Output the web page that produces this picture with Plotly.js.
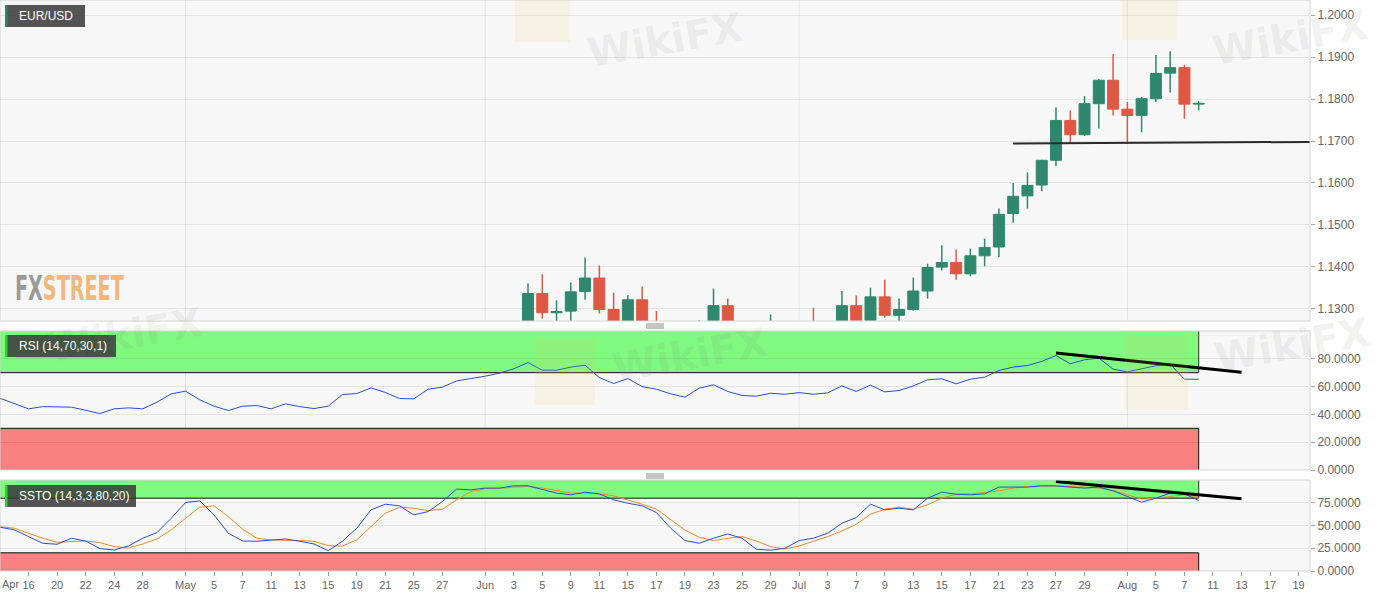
<!DOCTYPE html>
<html>
<head>
<meta charset="utf-8">
<script src="https://cdn.plot.ly/plotly-3.0.1.min.js"></script>
<style>
html,body{margin:0;padding:0;background:#ffffff;}
#chart{width:1387px;height:598px;}
</style>
</head>
<body>
<div id="chart"></div>
<script>
// ---------------- DATA ----------------
const candleStart = '2020-06-04';
const openP  = [1.1233,1.1336,1.1290,1.1294,1.1341,1.1373,1.1298,1.1255,1.1321,1.1263,1.1243,1.1204,1.1178,1.1258,1.1307,1.1250,1.1220,1.1219,1.1245,
                1.1234,1.1250,1.1238,1.1245,1.1307,1.1272,1.1328,1.1284,1.1298,1.1342,1.1399,1.1410,1.1383,1.1426,1.1447,1.1527,1.1569,1.1595,1.1654,1.1749,1.1715,1.1789,1.1845,
                1.1776,1.1761,1.1801,1.1862,1.1875,1.1788];
const highP  = [1.1360,1.1382,1.1320,1.1362,1.1422,1.1403,1.1338,1.1332,1.1353,1.1294,1.1255,1.1256,1.1272,1.1348,1.1324,1.1255,1.1248,1.1286,1.1254,
                1.1266,1.1302,1.1264,1.1342,1.1331,1.1350,1.1369,1.1324,1.1374,1.1407,1.1451,1.1441,1.1443,1.1467,1.1539,1.1600,1.1625,1.1655,1.1780,1.1773,1.1807,1.1848,1.1907,
                1.1793,1.1805,1.1905,1.1914,1.1882,1.1795];
const lowP   = [1.1212,1.1276,1.1240,1.1255,1.1321,1.1288,1.1232,1.1168,1.1235,1.1220,1.1187,1.1168,1.1170,1.1240,1.1233,1.1190,1.1197,1.1190,1.1200,
                1.1180,1.1228,1.1220,1.1234,1.1259,1.1256,1.1279,1.1258,1.1295,1.1324,1.1391,1.1369,1.1377,1.1401,1.1423,1.1505,1.1539,1.1580,1.1640,1.1695,1.1712,1.1730,1.1761,
                1.1694,1.1721,1.1793,1.1816,1.1753,1.1773];
const closeP = [1.1336,1.1290,1.1293,1.1340,1.1373,1.1298,1.1255,1.1321,1.1263,1.1243,1.1204,1.1178,1.1258,1.1307,1.1250,1.1220,1.1219,1.1245,1.1234,
                1.1250,1.1238,1.1245,1.1307,1.1272,1.1328,1.1284,1.1298,1.1342,1.1398,1.1410,1.1383,1.1426,1.1446,1.1525,1.1568,1.1594,1.1654,1.1749,1.1715,1.1789,1.1845,1.1776,
                1.1761,1.1801,1.1861,1.1875,1.1788,1.1790];

const indicatorStart = '2020-04-14';
const rsiValues = [51.6,47.8,44.0,45.6,45.4,45.2,43.0,40.6,44.0,44.7,44.0,48.8,54.8,56.7,50.5,45.9,42.8,45.9,46.4,44.0,
                   47.6,45.6,44.2,45.9,54.3,55.0,59.1,55.8,51.4,51.2,58.1,59.6,64.1,65.6,67.5,69.7,72.8,77.3,71.8,71.8,
                   74.0,75.4,66.5,62.2,65.8,60.0,58.1,54.8,52.4,58.9,61.3,56.5,53.6,53.1,55.2,54.5,55.7,54.5,55.5,60.5,
                   56.5,61.0,56.2,57.2,60.5,64.9,65.6,62.0,65.3,66.8,71.6,74.0,75.2,78.1,82.4,76.4,79.3,80.5,72.6,70.6,
                   72.6,75.0,76.2,65.3,65.3];
const sstoK = [48.1,45.2,37.8,30.5,29.4,36.0,33.0,24.6,23.1,27.5,36.0,42.2,58.0,75.2,77.1,61.7,41.5,33.0,32.7,34.1,
               35.2,32.7,29.7,22.4,32.7,47.0,67.2,73.4,71.6,61.7,65.3,76.3,90.0,89.2,91.1,91.1,93.6,93.6,89.2,85.6,
               83.7,86.6,84.8,78.2,74.5,71.6,64.2,47.0,33.4,30.5,36.0,40.7,36.0,23.9,22.8,25.0,33.4,36.0,41.5,52.5,
               58.7,73.4,67.2,69.0,67.2,80.0,86.6,84.4,83.7,84.8,92.2,92.2,92.2,93.6,93.6,92.2,91.1,92.2,88.1,81.9,
               75.6,80.0,85.6,84.8,77.5];
const sstoD = [48.8,47.0,41.5,36.0,31.6,32.7,33.0,31.2,26.8,25.3,29.7,35.2,45.2,58.0,70.1,71.6,59.8,45.9,36.0,34.1,
               34.1,33.4,32.7,27.9,27.5,34.1,48.8,63.5,70.1,69.0,66.4,67.9,78.2,87.4,90.4,90.7,92.2,92.9,91.1,88.1,
               85.6,85.6,84.8,82.6,78.2,73.4,67.9,56.2,45.0,37.0,33.4,36.0,37.8,33.0,26.8,24.2,27.5,32.7,37.8,44.0,
               51.4,62.4,67.9,70.1,67.9,72.7,80.0,84.4,84.8,86.3,88.1,91.1,92.9,93.6,93.6,92.9,92.2,91.1,88.5,83.7,
               79.0,80.0,81.9,83.7,81.1];

const tickDates  = ['2020-04-16','2020-04-20','2020-04-22','2020-04-24','2020-04-28','2020-05-01','2020-05-05','2020-05-07',
                    '2020-05-11','2020-05-13','2020-05-15','2020-05-19','2020-05-21','2020-05-25','2020-05-27','2020-06-01',
                    '2020-06-03','2020-06-05','2020-06-09','2020-06-11','2020-06-15','2020-06-17','2020-06-19','2020-06-23',
                    '2020-06-25','2020-06-29','2020-07-01','2020-07-03','2020-07-07','2020-07-09','2020-07-13','2020-07-15',
                    '2020-07-17','2020-07-21','2020-07-23','2020-07-27','2020-07-29','2020-08-03','2020-08-05','2020-08-07',
                    '2020-08-11','2020-08-13','2020-08-17','2020-08-19'];
const tickLabels = ['Apr 16','20','22','24','28','May','5','7','11','13','15','19','21','25','27','Jun',
                    '3','5','9','11','15','17','19','23','25','29','Jul','3','7','9','13','15',
                    '17','21','23','27','29','Aug','5','7','11','13','17','19'];
const monthStarts = ['2020-05-01','2020-06-01','2020-07-01','2020-08-03'];
const priceTicks = [1.13,1.14,1.15,1.16,1.17,1.18,1.19,1.20];
const rsiTicks = [0,20,40,60,80];
const sstoTicks = [0,25,50,75];
const rsiZones = {upper:70, lower:30};
const sstoZones = {upper:80, lower:20};

const supportX = ['2020-07-22','2020-08-21'];
const supportY = [1.1694, 1.1698];
const rsiTrendX = ['2020-07-27','2020-08-13'];
const rsiTrendY = [84.1, 70.4];
const sstoTrendX = ['2020-07-27','2020-08-13'];
const sstoTrendY = [98.3, 79.3];

// ---------------- HELPERS ----------------
// each trading day is placed at its midday so bodies never touch the weekend break
const MID = ' 12:00';
const atMid = d => d + MID;
function tradingDays(start, n){
  const out=[]; const d=new Date(start+'T00:00:00Z');
  while(out.length<n){ const w=d.getUTCDay(); if(w!==0&&w!==6) out.push(d.toISOString().slice(0,10)+MID); d.setUTCDate(d.getUTCDate()+1); }
  return out;
}
const candleDates = tradingDays(candleStart, openP.length);
const indDates = tradingDays(indicatorStart, rsiValues.length);
const lastDate = indDates[indDates.length-1];
const DAY = 86400000;

const W = 1310, H = 571;          // plot area in px
const xp = px => px / W;
const yp = py => (H - py) / H;

const GREEN = '#2f886d', RED = '#de5844';
const ZGREEN = '#80f980', ZRED = '#f98080';
const tickFont = {family:'Liberation Sans, Arial, sans-serif', size:12, color:'#666'};
const xTickFont = {family:'Liberation Sans, Arial, sans-serif', size:11, color:'#666'};

// candle pieces derived from OHLC arrays
const isUp = closeP.map((c,i)=> c >= openP[i]);
const bodyBase = openP.map((o,i)=> Math.min(o, closeP[i]));
const bodyLen = openP.map((o,i)=> Math.abs(closeP[i]-o));
function wicks(up){
  const xs=[], ys=[];
  candleDates.forEach((d,i)=>{ if(isUp[i]===up){ xs.push(d,d,null); ys.push(lowP[i],highP[i],null); } });
  return {xs, ys};
}
const wUp = wicks(true), wDn = wicks(false);

// ---------------- TRACES ----------------
const traces = [
  {type:'bar', x:candleDates, y:bodyLen, base:bodyBase, width:0.77*DAY, xaxis:'x', yaxis:'y',
   marker:{color:isUp.map(u=>u?GREEN:RED), line:{color:isUp.map(u=>u?GREEN:RED), width:1}},
   showlegend:false, hoverinfo:'skip'},
  {type:'scatter', mode:'lines', x:wUp.xs, y:wUp.ys, xaxis:'x', yaxis:'y', connectgaps:false,
   line:{color:GREEN, width:1.5}, showlegend:false, hoverinfo:'skip'},
  {type:'scatter', mode:'lines', x:wDn.xs, y:wDn.ys, xaxis:'x', yaxis:'y', connectgaps:false,
   line:{color:RED, width:1.5}, showlegend:false, hoverinfo:'skip'},
  {type:'scatter', mode:'lines', x:supportX.map(atMid), y:supportY, xaxis:'x', yaxis:'y',
   line:{color:'#2a2a2a', width:2}, showlegend:false, hoverinfo:'skip'},
  {type:'scatter', mode:'lines', x:indDates, y:rsiValues, xaxis:'x', yaxis:'y2',
   line:{color:'#2a4fd6', width:1}, showlegend:false, hoverinfo:'skip'},
  {type:'scatter', mode:'lines', x:rsiTrendX.map(atMid), y:rsiTrendY, xaxis:'x', yaxis:'y2',
   line:{color:'#000', width:3}, showlegend:false, hoverinfo:'skip'},
  {type:'scatter', mode:'lines', x:indDates, y:sstoD, xaxis:'x', yaxis:'y3',
   line:{color:'#f08a24', width:1}, showlegend:false, hoverinfo:'skip'},
  {type:'scatter', mode:'lines', x:indDates, y:sstoK, xaxis:'x', yaxis:'y3',
   line:{color:'#2a4fd6', width:1}, showlegend:false, hoverinfo:'skip'},
  {type:'scatter', mode:'lines', x:sstoTrendX.map(atMid), y:sstoTrendY, xaxis:'x', yaxis:'y3',
   line:{color:'#000', width:3}, showlegend:false, hoverinfo:'skip'}
];

// ---------------- SHAPES ----------------
const shapes = [];
const zoneStart = atMid(indicatorStart);
[['y2',rsiZones],['y3',sstoZones]].forEach(([ax,z])=>{
  shapes.push({type:'rect', xref:'x', yref:ax, x0:zoneStart, x1:lastDate, y0:z.upper, y1:100, fillcolor:ZGREEN, line:{width:0}, layer:'below'});
  shapes.push({type:'rect', xref:'x', yref:ax, x0:zoneStart, x1:lastDate, y0:0, y1:z.lower, fillcolor:ZRED, line:{width:0}, layer:'below'});
});
['y','y2','y3'].forEach(ax=>{
  monthStarts.forEach(d=>{
    shapes.push({type:'line', xref:'x', yref:ax+' domain', x0:atMid(d), x1:atMid(d), y0:0, y1:1, line:{color:'rgba(0,0,0,0.08)', width:1}, layer:'below'});
  });
});
[['y2',rsiZones],['y3',sstoZones]].forEach(([ax,z])=>{
  shapes.push({type:'line', xref:'x', yref:ax, x0:zoneStart, x1:lastDate, y0:z.upper, y1:z.upper, line:{color:'#111', width:1}, layer:'below'});
  shapes.push({type:'line', xref:'x', yref:ax, x0:zoneStart, x1:lastDate, y0:z.lower, y1:z.lower, line:{color:'#111', width:1}, layer:'below'});
  shapes.push({type:'line', xref:'x', yref:ax, x0:lastDate, x1:lastDate, y0:z.upper, y1:100, line:{color:'#333', width:1}, layer:'below'});
  shapes.push({type:'line', xref:'x', yref:ax, x0:lastDate, x1:lastDate, y0:0, y1:z.lower, line:{color:'#111', width:1}, layer:'below'});
});
['y','y2','y3'].forEach(ax=>{
  shapes.push({type:'rect', xref:'paper', yref:ax+' domain', x0:0, x1:1, y0:0, y1:1, line:{color:'#d4d4d4', width:1}, fillcolor:'rgba(0,0,0,0)', layer:'above'});
});
function labelBox(x0,x1,y0,y1,strip){
  shapes.push({type:'rect', xref:'paper', yref:'paper', x0:xp(x0), x1:xp(x1), y0:yp(y1), y1:yp(y0), fillcolor:'rgba(55,55,55,0.85)', line:{width:0}, layer:'above'});
  shapes.push({type:'rect', xref:'paper', yref:'paper', x0:xp(x0), x1:xp(x0+2.5), y0:yp(y1), y1:yp(y0), fillcolor:strip, line:{width:0}, layer:'above'});
}
labelBox(5,85,5,27,'#2e876c');
labelBox(5,116,335,357,'#2bd62b');
labelBox(5,136,485,507,'#2bd62b');
[326,476].forEach(cy=>{
  [-2,0,2].forEach(o=>{
    shapes.push({type:'line', xref:'paper', yref:'paper', x0:xp(646), x1:xp(664), y0:yp(cy+o), y1:yp(cy+o), line:{color:'#8a8a8a', width:1}, layer:'above'});
  });
});
[[515,-10,570,42],[1122,-10,1178,40],[1125,335,1188,410],[535,338,595,405]].forEach(b=>{
  shapes.push({type:'rect', xref:'paper', yref:'paper', x0:xp(b[0]), x1:xp(b[2]), y0:yp(b[3]), y1:yp(b[1]), fillcolor:'rgba(235,200,90,0.13)', line:{width:0}, layer:'above'});
});

// ---------------- ANNOTATIONS ----------------
const annotations = [
  {xref:'paper', yref:'paper', x:xp(17), y:yp(16), xanchor:'left', yanchor:'middle', showarrow:false,
   text:'EUR/USD', font:{family:'Liberation Sans, Arial, sans-serif', size:12, color:'#ffffff'}},
  {xref:'paper', yref:'paper', x:xp(17), y:yp(346), xanchor:'left', yanchor:'middle', showarrow:false,
   text:'RSI (14,70,30,1)', font:{family:'Liberation Sans, Arial, sans-serif', size:12, color:'#ffffff'}},
  {xref:'paper', yref:'paper', x:xp(17), y:yp(496), xanchor:'left', yanchor:'middle', showarrow:false,
   text:'SSTO (14,3,3,80,20)', font:{family:'Liberation Sans, Arial, sans-serif', size:12, color:'#ffffff'}},
  {xref:'paper', yref:'paper', x:xp(13), y:yp(288), xanchor:'left', yanchor:'middle', showarrow:false,
   text:'<b><span style="color:#9a9a9a">FX</span><span style="color:#f2b878">STREET</span></b>',
   font:{family:'DejaVu Sans, sans-serif', size:33, color:'#9a9a9a'}}
];
// month prefix of a tick label written beside its tick (e.g. "Apr" of "Apr 16")
const tickText = tickLabels.map(l => l.indexOf(' ')>0 ? l.split(' ')[1] : l);
tickLabels.forEach((l,i)=>{
  if(l.indexOf(' ')>0){
    annotations.push({xref:'paper', yref:'paper', x:0, y:yp(584), xanchor:'left', yanchor:'middle',
      showarrow:false, text:l.split(' ')[0], font:xTickFont});
  }
});
[[665,40],[1290,38],[125,335],[690,355],[1292,345]].forEach(p=>{
  annotations.push({xref:'paper', yref:'paper', x:xp(p[0]), y:yp(p[1]), xanchor:'center', yanchor:'middle', showarrow:false,
    text:'<b>WikiFX</b>', textangle:-10, font:{family:'DejaVu Sans, sans-serif', size:40, color:'rgba(120,120,120,0.11)'}});
});

// ---------------- LAYOUT ----------------
const yCommon = {side:'right', ticks:'outside', ticklen:4, tickcolor:'#aaa', tickfont:tickFont,
                 gridcolor:'rgba(0,0,0,0.07)', gridwidth:1, zeroline:false, showline:false, tickformat:'.4f', fixedrange:true};
const layout = {
  width:1387, height:598,
  margin:{l:0, r:77, t:0, b:27, pad:0},
  paper_bgcolor:'#ffffff', plot_bgcolor:'#f7f7f7',
  showlegend:false, barmode:'overlay',
  xaxis:{type:'date', anchor:'y3', domain:[0,1],
         range:[atMid(indicatorStart), '2020-08-20 07:12'],
         rangebreaks:[{bounds:['sat','mon']}],
         rangeslider:{visible:false},
         tickmode:'array', tickvals:tickDates.map(atMid), ticktext:tickText, tickangle:0,
         ticks:'outside', ticklen:4, tickcolor:'#999', tickfont:xTickFont,
         showgrid:false, zeroline:false, showline:false, fixedrange:true},
  yaxis:Object.assign({}, yCommon, {domain:[1-321/571, 1], range:[1.12704, 1.20365], tickmode:'array', tickvals:priceTicks, anchor:'x'}),
  yaxis2:Object.assign({}, yCommon, {domain:[(571-470)/571, (571-331)/571], range:[0,100], tickmode:'array', tickvals:rsiTicks, anchor:'x'}),
  yaxis3:Object.assign({}, yCommon, {domain:[0, 91/571], range:[0,100], tickmode:'array', tickvals:sstoTicks, anchor:'x'}),
  shapes:shapes,
  annotations:annotations
};

Plotly.newPlot('chart', traces, layout, {staticPlot:true, displayModeBar:false}).then(()=>{
  // condense the FXSTREET wordmark horizontally (keeps it real text)
  document.querySelectorAll('text.annotation-text').forEach(t=>{
    if(t.textContent === 'FXSTREET'){
      const bb = t.getBBox();
      if(bb.width > 0){
        const s = 109 / bb.width;
        t.setAttribute('transform', 'translate(' + (bb.x*(1-s)) + ',0) scale(' + s + ',1)');
      }
    }
  });
});
</script>
</body>
</html>
